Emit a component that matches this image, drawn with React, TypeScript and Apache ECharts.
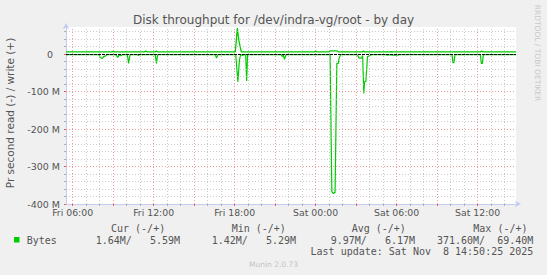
import React, { useEffect, useRef } from 'react';
import * as echarts from 'echarts';

const TITLE = 'Disk throughput for /dev/indra-vg/root - by day';
const Y_AXIS_TITLE = 'Pr second read (-) / write (+)';
const SIDE_TEXT = 'RRDTOOL / TOBI OETIKER';
const FOOTER = 'Munin 2.0.73';

// hours since Fri 00:00
const xStartHour = 5.51;
const xEndHour = 38.84;
// values in M (bytes per second)
const yMinM = -400;
const yMaxM = 72;

const xLabelHours = [6, 12, 18, 24, 30, 36];
const xMajorGridHours = [6, 9, 12, 15, 18, 21, 24, 27, 30, 33, 36];
const xMinorGridHours = [7, 8, 10, 11, 13, 14, 16, 17, 19, 20, 22, 23, 25, 26, 28, 29, 31, 32, 34, 35, 37, 38];
const yLabelValues = [-400, -300, -200, -100, 0];
const yMajorGridValues = [-300, -200, -100];
const yMinorGridValues = [-380, -360, -340, -320, -280, -260, -240, -220, -180, -160, -140, -120, -80, -60, -40, -20, 20, 40, 60];

// write (+), [hour, M]
const writePoints: [number, number][] = [
  [5.51, 5.6], [8.9, 5.6], [9.0, 6.8], [9.1, 5.6], [11.3, 5.6], [11.42, 7.6], [11.55, 5.6],
  [12.1, 5.6], [12.21, 8.0], [12.32, 5.6], [18.05, 5.6], [18.2, 69.4], [18.31, 37], [18.49, 5.6],
  [23.9, 5.6], [24.0, 7.8], [24.1, 5.6], [25.0, 5.6], [25.07, 8.4], [25.6, 8.4], [25.68, 5.6],
  [27.45, 5.6], [27.54, 8.0], [27.63, 5.6], [29.5, 5.6], [29.6, 6.5], [29.7, 5.6],
  [36.2, 5.6], [36.3, 8.0], [36.4, 5.6], [38.84, 5.59],
];

// read (-), magnitudes, [hour, M]
const readPoints: [number, number][] = [
  [5.51, 1.5], [7.95, 1.5], [8.05, 10], [8.2, 11.5], [8.3, 7], [8.45, 5], [8.55, 1.5],
  [9.2, 1.5], [9.34, 9], [9.45, 3], [9.58, 4.5], [9.7, 1.5],
  [10.05, 1.5], [10.15, 25], [10.25, 1.5],
  [10.8, 1.5], [10.87, 4], [10.95, 1.5],
  [12.12, 1.5], [12.21, 25], [12.3, 1.5],
  [16.57, 1.5], [16.66, 11], [16.76, 1.5],
  [18.08, 1.5], [18.24, 74], [18.36, 15], [18.45, 1.5], [18.6, 4], [18.7, 1.5],
  [18.82, 1.5], [18.89, 72], [18.96, 1.5],
  [21.45, 1.5], [21.52, 7], [21.6, 3], [21.7, 14], [21.8, 1.5],
  [25.07, 1.5], [25.2, 367], [25.3, 371.6], [25.44, 369], [25.57, 25], [25.68, 25], [25.74, 11], [25.86, 1.5],
  [27.0, 1.5], [27.1, 2.7], [27.22, 11], [27.4, 11], [27.48, 4], [27.57, 105], [27.62, 74], [27.72, 74],
  [27.84, 7], [28.0, 4.5], [28.15, 1.5],
  [29.2, 1.5], [29.3, 3], [29.5, 2], [29.7, 3], [29.9, 2.5], [30.1, 3], [30.2, 1.5],
  [34.1, 1.5], [34.17, 23], [34.24, 23], [34.32, 1.5],
  [36.2, 1.5], [36.27, 25], [36.35, 25], [36.42, 1.5],
  [38.84, 1.64],
];

const legendLabel = 'Bytes';
const statHeaders = ['Cur (-/+)', 'Min (-/+)', 'Avg (-/+)', 'Max (-/+)'];
const readStats = ['1.64M/', '1.42M/', '9.97M/', '371.60M/'];
const writeStats = ['5.59M', '5.29M', '6.17M', '69.40M'];
const lastUpdateParts = ['Last update: Sat Nov', '8 14:50:25 2025'];

const GREEN = '#00cc00';
const TEXT = '#555555';
const AXIS = '#c4ccf2';
const MINOR = 'rgba(185,185,185,0.75)';
const MAJOR = 'rgba(230,130,130,0.8)';
const SANS = 'DejaVu Sans';
const MONO = 'DejaVu Sans Mono';
const CH = 6.02;

const headerLefts = [111, 231.7, 351.7, 473.3];
const groupRights = [180, 296, 415, 533.3];

function hourLabel(h: number): string {
  const day = h < 24 ? 'Fri' : 'Sat';
  const hh = Math.round(h % 24);
  return `${day} ${hh < 10 ? '0' + hh : hh}:00`;
}

export default function App() {
  const ref = useRef<HTMLDivElement>(null);
  useEffect(() => {
    if (!ref.current) return;
    const chart = echarts.init(ref.current, null, { renderer: 'svg' });

    const gridLines: any[] = [];
    xMinorGridHours.forEach((h) => gridLines.push({ xAxis: h, lineStyle: { color: MINOR, type: [1, 2], width: 1 } }));
    yMinorGridValues.forEach((v) => gridLines.push({ yAxis: v, lineStyle: { color: MINOR, type: [1, 2], width: 1 } }));
    xMajorGridHours.forEach((h) => gridLines.push({ xAxis: h, lineStyle: { color: MAJOR, type: [1, 2], width: 1 } }));
    yMajorGridValues.forEach((v) => gridLines.push({ yAxis: v, lineStyle: { color: MAJOR, type: [1, 2], width: 1 } }));

    const graphic: any[] = [
      { type: 'text', x: 273.5, y: 20, style: { text: TITLE, fill: TEXT, fontSize: 12, fontFamily: SANS, align: 'center', verticalAlign: 'middle' } },
      { type: 'text', x: 10, y: 113, rotation: Math.PI / 2, style: { text: Y_AXIS_TITLE, fill: TEXT, fontSize: 10.5, fontFamily: SANS, align: 'center', verticalAlign: 'middle' } },
      { type: 'text', x: 537, y: 53, rotation: -Math.PI / 2, style: { text: SIDE_TEXT, fill: '#c8c8c8', fontSize: 7.5, fontFamily: SANS, align: 'center', verticalAlign: 'middle' } },
      { type: 'text', x: 273.5, y: 264.5, style: { text: FOOTER, fill: '#c4c4c4', fontSize: 7.5, fontFamily: SANS, align: 'center', verticalAlign: 'middle' } },
      { type: 'rect', shape: { x: 14, y: 237, width: 5.5, height: 5.5 }, style: { fill: GREEN } },
      { type: 'text', x: 26.7, y: 240, style: { text: legendLabel, fill: TEXT, fontSize: 10, fontFamily: MONO, align: 'left', verticalAlign: 'middle' } },
    ];
    statHeaders.forEach((t, i) => {
      graphic.push({ type: 'text', x: headerLefts[i], y: 228, style: { text: t, fill: TEXT, fontSize: 10, fontFamily: MONO, align: 'left', verticalAlign: 'middle' } });
    });
    readStats.forEach((t, i) => {
      graphic.push({ type: 'text', x: groupRights[i] - 8 * CH, y: 240, style: { text: t, fill: TEXT, fontSize: 10, fontFamily: MONO, align: 'right', verticalAlign: 'middle' } });
    });
    writeStats.forEach((t, i) => {
      graphic.push({ type: 'text', x: groupRights[i], y: 240, style: { text: t, fill: TEXT, fontSize: 10, fontFamily: MONO, align: 'right', verticalAlign: 'middle' } });
    });
    graphic.push({ type: 'text', x: 533.3, y: 251.5, style: { text: lastUpdateParts[1], fill: TEXT, fontSize: 10, fontFamily: MONO, align: 'right', verticalAlign: 'middle' } });
    graphic.push({ type: 'text', x: 533.3 - (lastUpdateParts[1].length + 2) * CH, y: 251.5, style: { text: lastUpdateParts[0], fill: TEXT, fontSize: 10, fontFamily: MONO, align: 'right', verticalAlign: 'middle' } });

    chart.setOption({
      animation: false,
      backgroundColor: '#f0f0f0',
      grid: { left: 66, right: 31, top: 27, bottom: 71, show: true, backgroundColor: '#ffffff', borderWidth: 0, containLabel: false, outerBoundsMode: 'none' },
      xAxis: [
        {
          type: 'value', min: xStartHour, max: xEndHour, position: 'bottom',
          axisLine: { show: true, onZero: false, lineStyle: { color: AXIS, width: 1 }, symbol: ['none', 'arrow'], symbolSize: [5, 6], symbolOffset: [0, 5] },
          axisTick: { show: true, customValues: xMinorGridHours, length: 2, lineStyle: { color: '#b0b0b0' } },
          axisLabel: { show: true, customValues: xLabelHours, formatter: (v: number) => hourLabel(v), margin: 4, fontSize: 9.33, fontFamily: SANS, color: TEXT },
          splitLine: { show: false },
        },
        {
          type: 'value', min: xStartHour, max: xEndHour, position: 'bottom',
          axisLine: { show: false, onZero: false },
          axisTick: { show: true, customValues: xMajorGridHours, length: 2, lineStyle: { color: '#e06060' } },
          axisLabel: { show: false },
          splitLine: { show: false },
        },
      ],
      yAxis: [
        {
          type: 'value', min: yMinM, max: yMaxM, position: 'left',
          axisLine: { show: true, onZero: false, lineStyle: { color: AXIS, width: 1 }, symbol: ['none', 'arrow'], symbolSize: [5, 6], symbolOffset: [0, 4] },
          axisTick: { show: true, customValues: yLabelValues, length: 2, lineStyle: { color: '#e06060' } },
          axisLabel: {
            show: true, customValues: yLabelValues, margin: 6, fontSize: 9.5, fontFamily: SANS, color: TEXT,
            formatter: (v: number) => (v === 0 ? '{z|0}' : `${v} M`),
            rich: { z: { padding: [0, 7, 0, 0], fontSize: 9.5, fontFamily: SANS, color: TEXT } },
          },
          splitLine: { show: false },
        },
        {
          type: 'value', min: yMinM, max: yMaxM, position: 'left',
          axisLine: { show: false, onZero: false },
          axisTick: { show: true, customValues: yMinorGridValues, length: 2, lineStyle: { color: '#b0b0b0' } },
          axisLabel: { show: false },
          splitLine: { show: false },
        },
      ],
      graphic,
      series: [
        {
          type: 'line', name: 'grid', data: writePoints, z: 1, silent: true, showSymbol: false,
          lineStyle: { opacity: 0 }, emphasis: { disabled: true },
          markLine: { silent: true, symbol: ['none', 'none'], animation: false, label: { show: false }, emphasis: { disabled: true }, data: gridLines },
        },
        {
          type: 'line', name: 'read', data: readPoints.map(([h, v]) => [h, -v]), z: 2, silent: true, showSymbol: false,
          lineStyle: { color: GREEN, width: 1.2 }, emphasis: { disabled: true },
        },
        {
          type: 'line', name: 'write', data: writePoints, z: 3, silent: true, showSymbol: false,
          lineStyle: { color: GREEN, width: 1.3 }, emphasis: { disabled: true },
          markLine: { silent: true, symbol: ['none', 'none'], animation: false, label: { show: false }, emphasis: { disabled: true },
            data: [{ yAxis: 0, lineStyle: { color: '#000000', type: [3, 1], width: 1 } }] },
        },
      ],
    });
    return () => chart.dispose();
  }, []);
  return <div ref={ref} style={{ position: 'fixed', left: 0, top: 0, width: 547, height: 275 }} />;
}
